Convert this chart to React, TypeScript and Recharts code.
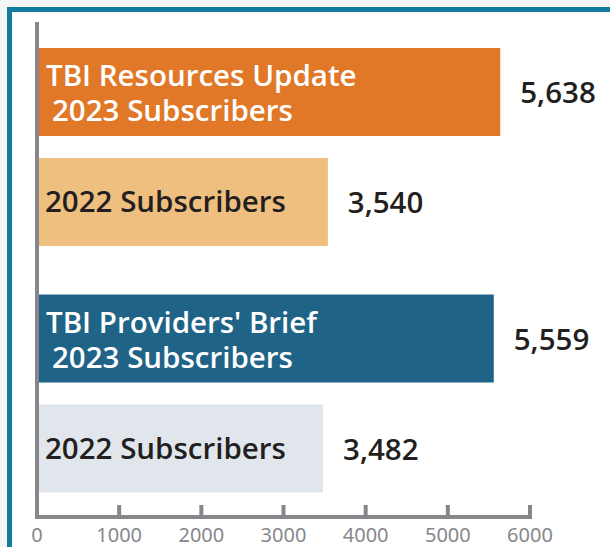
import React from "react";
import { BarChart, Bar, XAxis, YAxis, Cell, LabelList } from "recharts";

const products = ["TBI Resources Update", "TBI Providers' Brief"];
const subscribers2023 = [5638, 5559];
const subscribers2022 = [3540, 3482];
const xTicks = [0, 1000, 2000, 3000, 4000, 5000, 6000];
const label2023 = "2023 Subscribers";
const label2022 = "2022 Subscribers";

const colors2023 = ["#e07828", "#1f6487"];
const colors2022 = ["#eebf7e", "#e1e6ed"];

const data = products.map((p, i) => ({
  name: p,
  y2023: subscribers2023[i],
  y2022: subscribers2022[i],
}));

const FONT = "'Open Sans', 'Noto Sans', sans-serif";
const TICKFONT = "'Noto Sans', sans-serif";
const DARK = "#231f20";
const AXIS = "#87878b";

const fmt = (v: number) => v.toLocaleString("en-US");

const Inner2023 = (props: any) => {
  const { x, y, index } = props;
  return (
    <text fontFamily={FONT} fontSize={29.5} fontWeight={600} fill="#ffffff">
      <tspan x={x + 9} y={y + 38}>{products[index]}</tspan>
      <tspan x={x + 15} y={y + 73}>{label2023}</tspan>
    </text>
  );
};

const Inner2022 = (props: any) => {
  const { x, y, height } = props;
  return (
    <text
      x={x + 8}
      y={y + height / 2 + 10}
      fontFamily={FONT}
      fontSize={29.5}
      fontWeight={600}
      fill={DARK}
    >
      {label2022}
    </text>
  );
};

const ValueLabel = (props: any) => {
  const { x, y, width, height, value } = props;
  return (
    <text
      x={x + width + 20}
      y={y + height / 2 + 11}
      fontFamily={FONT}
      fontSize={29.5}
      fontWeight={600}
      fill={DARK}
    >
      {fmt(value)}
    </text>
  );
};

export default function App() {
  return (
    <div
      style={{
        position: "absolute",
        left: 0,
        top: 0,
        width: 610,
        height: 547,
        background: "#f4f4f4",
        overflow: "hidden",
      }}
    >
      <div
        style={{
          position: "absolute",
          left: 7,
          top: 7,
          width: 640,
          height: 600,
          border: "5px solid #137c9c",
          background: "#ffffff",
        }}
      />
      <div style={{ position: "absolute", left: 0, top: 0 }}>
        <BarChart
          width={610}
          height={547}
          data={data}
          layout="vertical"
          margin={{ top: 24, right: 80, bottom: 0, left: 36 }}
          barSize={88}
          barGap={22}
        >
          <XAxis
            type="number"
            domain={[0, 6000]}
            ticks={xTicks}
            interval={0}
            height={30}
            axisLine={{ stroke: AXIS, strokeWidth: 4, strokeLinecap: "square" }}
            tickLine={{ stroke: AXIS, strokeWidth: 4 }}
            tickSize={-12}
            tickMargin={23}
            tick={{ fill: AXIS, fontSize: 20, fontFamily: TICKFONT }}
          />
          <YAxis
            type="category"
            dataKey="name"
            width={1}
            axisLine={{ stroke: AXIS, strokeWidth: 4, strokeLinecap: "square" }}
            tickLine={{ stroke: AXIS, strokeWidth: 4 }}
            tickSize={-13}
            tick={false}
          />
          <Bar dataKey="y2023" isAnimationActive={false}>
            {data.map((_, i) => (
              <Cell key={i} fill={colors2023[i]} />
            ))}
            <LabelList dataKey="y2023" content={Inner2023} />
            <LabelList dataKey="y2023" content={ValueLabel} />
          </Bar>
          <Bar dataKey="y2022" isAnimationActive={false}>
            {data.map((_, i) => (
              <Cell key={i} fill={colors2022[i]} />
            ))}
            <LabelList dataKey="y2022" content={Inner2022} />
            <LabelList dataKey="y2022" content={ValueLabel} />
          </Bar>
        </BarChart>
      </div>
    </div>
  );
}
